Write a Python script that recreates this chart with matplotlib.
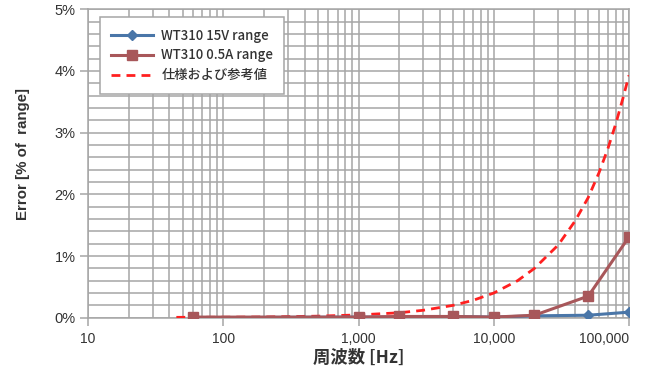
import matplotlib
matplotlib.use("Agg")
import matplotlib.pyplot as plt
from matplotlib.ticker import FixedLocator, MultipleLocator, FuncFormatter, LogLocator, NullFormatter

# Measurement frequencies [Hz]
freq_meas = [60, 1000, 2000, 5000, 10000, 20000, 50000, 100000]
# Error in % of range
err_15v = [0.00, 0.01, 0.01, 0.02, 0.01, 0.03, 0.04, 0.09]
err_05a = [0.01, 0.01, 0.02, 0.02, 0.01, 0.04, 0.35, 1.31]

# Specification / reference values curve
freq_spec = [45, 100, 200, 500, 1000, 2000, 3000, 5000, 7000, 10000, 15000,
             20000, 30000, 40000, 50000, 60000, 70000, 80000, 90000, 100000]
err_spec = [0.006, 0.008, 0.012, 0.025, 0.045, 0.08, 0.12, 0.20, 0.28, 0.40,
            0.60, 0.80, 1.18, 1.57, 1.95, 2.35, 2.75, 3.15, 3.55, 3.93]

x_ticks = [10, 100, 1000, 10000, 100000]
y_ticks = [0, 1, 2, 3, 4, 5]

series_labels = ["WT310 15V range", "WT310 0.5A range", "仕様および参考値"]
x_label = "周波数 [Hz]"
y_label = "Error [% of  range]"

latin = "Liberation Sans"
cjk = ["Noto Sans CJK JP", "DejaVu Sans"]

fig = plt.figure(figsize=(6.45, 3.70), dpi=100)
ax = fig.add_axes([88 / 645, 1 - 317.7 / 370, (629 - 88) / 645, (317.7 - 9.3) / 370])

grid_c = "#A6A6A6"
ax.set_xscale("log")
ax.set_xlim(10, 100000)
ax.set_ylim(0, 5)

ax.xaxis.set_major_locator(FixedLocator(x_ticks))
ax.xaxis.set_minor_locator(LogLocator(base=10, subs=range(2, 10)))
ax.xaxis.set_minor_formatter(NullFormatter())
ax.xaxis.set_major_formatter(FuncFormatter(lambda v, p: f"{v:,.0f}"))
ax.yaxis.set_major_locator(FixedLocator(y_ticks))
ax.yaxis.set_minor_locator(MultipleLocator(0.2))
ax.yaxis.set_major_formatter(FuncFormatter(lambda v, p: f"{v:.0f}%"))

ax.grid(which="both", color=grid_c, linewidth=1.1)
ax.set_axisbelow(True)
for s in ax.spines.values():
    s.set_color(grid_c)
    s.set_linewidth(1.1)

ax.tick_params(which="major", length=6, width=1.1, color=grid_c,
               labelsize=10.5, labelcolor="#333333", pad=3)
ax.tick_params(axis="x", which="major", labelsize=10, pad=4)
ax.tick_params(which="minor", length=0)
for lab in ax.get_xticklabels() + ax.get_yticklabels():
    lab.set_family(latin)
# keep the last frequency label inside the figure
ax.get_xticklabels()[-1].set_horizontalalignment("right")

ax.plot(freq_spec, err_spec, linestyle=(0, (3.2, 2.2)), color="#FF2020",
        linewidth=2.0, label=series_labels[2], zorder=3)
ax.plot(freq_meas, err_15v, color="#4A76A8", linewidth=2.2, marker="D",
        markersize=5.5, label=series_labels[0], zorder=4)
ax.plot(freq_meas, err_05a, color="#A8575A", linewidth=2.2, marker="s",
        markersize=7.5, label=series_labels[1], zorder=5)

ax.set_xlabel(x_label, family=cjk, fontsize=12.5, fontweight="bold",
              color="#333333", labelpad=2)
ax.set_ylabel(y_label, family=latin, fontsize=10.8, fontweight="bold",
              color="#333333")
ax.yaxis.set_label_coords(-0.108, 0.53)

handles, labels = ax.get_legend_handles_labels()
order = [1, 2, 0]
leg = ax.legend([handles[i] for i in order], [labels[i] for i in order],
                loc="upper left", bbox_to_anchor=(0.022, 0.974),
                prop={"family": cjk, "size": 9.5, "weight": "medium"},
                fancybox=False, framealpha=1, edgecolor=grid_c,
                handlelength=3.2, handletextpad=0.6, labelspacing=0.45,
                borderpad=0.85, borderaxespad=0)
leg.get_frame().set_linewidth(1.1)
for t in leg.get_texts():
    t.set_color("#333333")

fig.savefig("out.png", dpi=100)
